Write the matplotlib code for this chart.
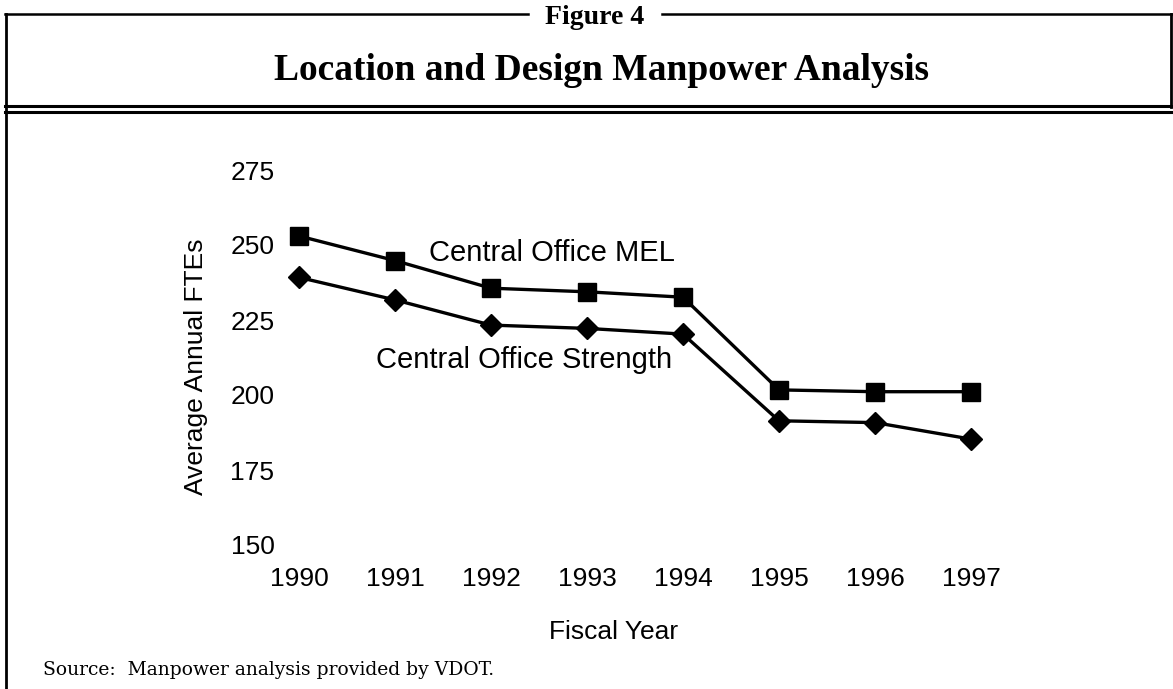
import matplotlib
matplotlib.use("Agg")
import matplotlib.pyplot as plt
from matplotlib.lines import Line2D

years = [1990, 1991, 1992, 1993, 1994, 1995, 1996, 1997]
mel = [253, 244.8, 235.6, 234.4, 232.6, 201.7, 201.1, 201.1]
strength = [239.2, 231.7, 223.3, 222.2, 220.3, 191.4, 190.8, 185.3]
y_ticks = [150, 175, 200, 225, 250, 275]
mel_label = "Central Office MEL"
strength_label = "Central Office Strength"

W, H = 1173, 689
fig = plt.figure(figsize=(W / 100, H / 100), dpi=100)
fig.patch.set_facecolor("white")

def fx(px):
    return px / W

def fy(py):
    return 1 - py / H

# axes placement (pixels)
ax_left, ax_right = 280, 1019
ax_top, ax_bottom = 170, 545
ax = fig.add_axes([fx(ax_left), fy(ax_bottom), fx(ax_right - ax_left), (ax_bottom - ax_top) / H])
px_per_year = 96
x0 = 1990 - (299 - ax_left) / px_per_year
x1 = x0 + (ax_right - ax_left) / px_per_year
ax.set_xlim(x0, x1)
ax.set_ylim(150, 275)

ax.plot(years, mel, color="black", lw=2.4, marker="s", ms=12.5, mfc="black", mec="black")
ax.plot(years, strength, color="black", lw=2.4, marker="D", ms=11, mfc="black", mec="black")

ax.set_xticks(years)
ax.set_xticklabels([str(y) for y in years])
ax.set_yticks(y_ticks)
ax.tick_params(axis="both", length=0, labelsize=19)
ax.tick_params(axis="x", pad=16)
ax.tick_params(axis="y", pad=4)
for s in ax.spines.values():
    s.set_visible(False)
ax.patch.set_alpha(0)
for lab in ax.get_xticklabels() + ax.get_yticklabels():
    lab.set_fontfamily("Liberation Sans")

sans = "Liberation Sans"
serif = "Liberation Serif"

ax.text(1991.35, 247.3, mel_label, fontsize=21, family=sans, va="center", ha="left")
ax.text(1990.8, 211.7, strength_label, fontsize=21, family=sans, va="center", ha="left")

fig.text(fx(196), fy(367), "Average Annual FTEs", rotation=90, fontsize=19, family=sans,
         ha="center", va="center")
fig.text(fx(614), fy(632), "Fiscal Year", fontsize=19, family=sans, ha="center", va="center")

# header
fig.text(fx(595), fy(17), "Figure 4", fontsize=20, family=serif, weight="bold", ha="center", va="center")
fig.text(fx(601), fy(71), "Location and Design Manpower Analysis", fontsize=27, family=serif,
         weight="bold", ha="center", va="center")
fig.text(fx(43), fy(670), "Source:  Manpower analysis provided by VDOT.", fontsize=13.5,
         family="DejaVu Serif", ha="left", va="center")

# frame lines
def hline(xa, xb, y, lw):
    fig.add_artist(Line2D([fx(xa), fx(xb)], [fy(y), fy(y)], color="black", lw=lw))

def vline(x, ya, yb, lw):
    fig.add_artist(Line2D([fx(x), fx(x)], [fy(ya), fy(yb)], color="black", lw=lw))

hline(5, 528, 14, 1.8)
hline(662, 1173, 14, 1.8)
vline(6, 14, 689, 2.0)
vline(1171, 14, 107, 2.0)
hline(5, 1173, 106, 2.2)
hline(5, 1173, 112, 2.2)

fig.savefig("out.png", dpi=100, facecolor="white")
